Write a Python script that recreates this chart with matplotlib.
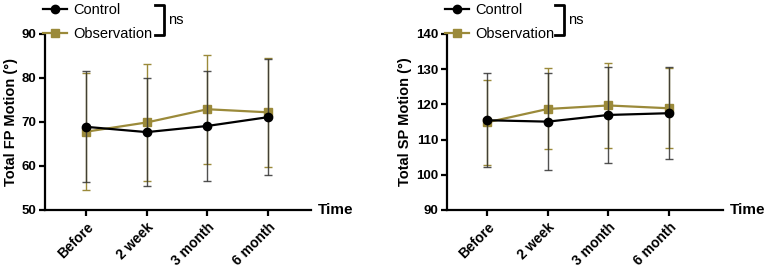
import matplotlib
matplotlib.use("Agg")
import matplotlib.pyplot as plt
from matplotlib.lines import Line2D
from matplotlib.transforms import ScaledTranslation

plt.rcParams['font.family'] = ['Liberation Sans', 'DejaVu Sans']

categories = ["Before", "2 week", "3 month", "6 month"]

fp_control = [68.9, 67.7, 69.1, 71.1]
fp_control_sd = [12.6, 12.3, 12.5, 13.2]
fp_obs = [67.8, 69.9, 72.9, 72.2]
fp_obs_sd = [13.3, 13.3, 12.4, 12.4]

sp_control = [115.5, 115.1, 117.0, 117.5]
sp_control_sd = [13.3, 13.7, 13.7, 13.0]
sp_obs = [114.9, 118.7, 119.7, 118.9]
sp_obs_sd = [12.0, 11.5, 12.0, 11.3]

CTRL = "#000000"
OBS = "#9B8A3A"

W, H = 767, 270
fig = plt.figure(figsize=(W/100, H/100), dpi=100)

def px_axes(l, r, t, b):
    return fig.add_axes([l/W, 1-b/H, (r-l)/W, (b-t)/H])

MS = 6

def panel(ax, ctrl, ctrl_sd, obs, obs_sd, ylim, yticks, ylabel, xlim, leg_x, br_x):
    x = list(range(len(categories)))
    ax.errorbar(x, obs, yerr=obs_sd, color=OBS, ecolor=OBS, elinewidth=1.0, capsize=3,
                capthick=1.0, marker='s', markersize=MS, linewidth=1.6, zorder=2, clip_on=False)
    ax.errorbar(x, ctrl, yerr=ctrl_sd, color=CTRL, ecolor=(0.2, 0.2, 0.2, 0.85), elinewidth=1.0, capsize=3,
                capthick=1.0, marker='o', markersize=MS, linewidth=1.6, zorder=3, clip_on=False)
    ax.set_xlim(*xlim)
    ax.set_ylim(*ylim)
    ax.set_yticks(yticks)
    ax.set_xticks(x)
    ax.set_xticklabels(categories, rotation=45, ha='right', rotation_mode='anchor',
                       fontweight='bold', fontsize=10)
    off = ScaledTranslation(-6/100, -3/100, fig.dpi_scale_trans)
    for lab in ax.get_xticklabels():
        lab.set_transform(lab.get_transform() + off)
    for lab in ax.get_yticklabels():
        lab.set_fontweight('bold'); lab.set_fontsize(9.5)
    ax.set_ylabel(ylabel, fontweight='bold', fontsize=10.5, labelpad=3)
    for s in ['top', 'right']:
        ax.spines[s].set_visible(False)
    for s in ['left', 'bottom']:
        ax.spines[s].set_linewidth(1.6)
    ax.tick_params(axis='both', width=1.6, length=4, pad=2)
    ax.tick_params(axis='x', pad=3)
    ax.text(1.025, 0.0, "Time", transform=ax.transAxes, fontweight='bold', fontsize=11,
            va='center', ha='left')
    # legend
    handles = [Line2D([], [], color=CTRL, marker='o', markersize=MS, linewidth=1.6),
               Line2D([], [], color=OBS, marker='s', markersize=MS, linewidth=1.6)]
    fig.legend(handles, ["Control", "Observation"], loc='upper left',
               bbox_to_anchor=(leg_x/W, 1 - 3/H), frameon=False, fontsize=10.5,
               handlelength=1.65, handletextpad=0.4, labelspacing=0.68, borderpad=0.0,
               borderaxespad=0.0)
    # bracket
    yt, yb = 1 - 5/H, 1 - 35/H
    xr, xl = br_x/W, (br_x-9)/W
    fig.add_artist(Line2D([xl, xr, xr, xl], [yt, yt, yb, yb], color='black', linewidth=2.0,
                          transform=fig.transFigure))
    fig.text((br_x+4)/W, 1 - 20/H, "ns", fontsize=10.5, va='center', ha='left')

ax1 = px_axes(45, 311, 34, 210)
panel(ax1, fp_control, fp_control_sd, fp_obs, fp_obs_sd, (50, 90), [50, 60, 70, 80, 90],
      "Total FP Motion (°)", (-0.68, 3.71), 43, 164)

ax2 = px_axes(447, 723, 34, 210)
panel(ax2, sp_control, sp_control_sd, sp_obs, sp_obs_sd, (90, 140), [90, 100, 110, 120, 130, 140],
      "Total SP Motion (°)", (-0.66, 3.89), 445, 564)

fig.savefig("out.png", dpi=100)
